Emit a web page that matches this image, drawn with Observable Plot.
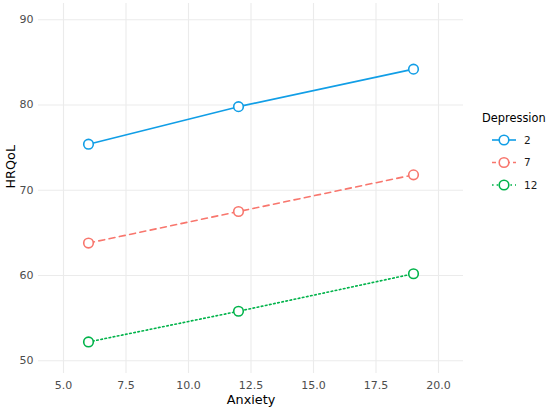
<!DOCTYPE html>
<html>
<head>
<meta charset="utf-8">
<script src="https://cdn.jsdelivr.net/npm/d3@7"></script>
<script src="https://cdn.jsdelivr.net/npm/@observablehq/plot@0.6"></script>
<style>
  html, body { margin: 0; padding: 0; background: #fff; overflow: hidden; }
  #chart svg { display: block; max-width: none; }
</style>
</head>
<body>
<div id="chart"></div>
<script>
const anxiety = [6, 12, 19];
const depressionLevels = ["2", "7", "12"];
const hrqolDep2 = [75.4, 79.8, 84.2];
const hrqolDep7 = [63.8, 67.5, 71.8];
const hrqolDep12 = [52.2, 55.8, 60.2];
const xTicks = [5, 7.5, 10, 12.5, 15, 17.5, 20];
const yTicks = [50, 60, 70, 80, 90];
const colors = ["#119EE6", "#F8766D", "#00B34A"];
const dashes = ["none", "6,4.5", "1.6,2.6"];

const seriesValues = [hrqolDep2, hrqolDep7, hrqolDep12];
const data = depressionLevels.flatMap((d, i) =>
  anxiety.map((a, j) => ({ Anxiety: a, HRQoL: seriesValues[i][j], Depression: d }))
);

const font = "DejaVu Sans, sans-serif";

const lineMarks = depressionLevels.map((d, i) =>
  Plot.line(data.filter(r => r.Depression === d), {
    x: "Anxiety", y: "HRQoL", stroke: "Depression",
    strokeWidth: 1.6, strokeDasharray: dashes[i] === "none" ? undefined : dashes[i]
  })
);

const chart = Plot.plot({
  width: 550,
  height: 412,
  marginLeft: 38,
  marginRight: 87,
  marginTop: 3,
  marginBottom: 39,
  style: { fontFamily: font, fontSize: "11px", background: "#fff" },
  x: { domain: [4, 21] },
  y: { domain: [48.5, 91.9] },
  color: { domain: depressionLevels, range: colors },
  marks: [
    Plot.gridX(xTicks, { stroke: "#EBEBEB", strokeOpacity: 1, strokeWidth: 1.1 }),
    Plot.gridY(yTicks, { stroke: "#EBEBEB", strokeOpacity: 1, strokeWidth: 1.1 }),
    Plot.axisX(xTicks, { tickSize: 0, tickPadding: 8, tickFormat: d => d.toFixed(1), label: null, fill: "#4D4D4D" }),
    Plot.axisY(yTicks, { tickSize: 0, tickPadding: 5, label: null, fill: "#4D4D4D" }),
    ...lineMarks,
    Plot.dot(data, { x: "Anxiety", y: "HRQoL", stroke: "Depression", r: 4.8, strokeWidth: 1.6, fill: "white" }),
    Plot.text(["Anxiety"], { frameAnchor: "bottom", dy: 30, fontSize: 12.8, fill: "#000", text: d => d }),
    Plot.text(["HRQoL"], { frameAnchor: "left", dx: -27.5, rotate: -90, fontSize: 12.8, fill: "#000", text: d => d })
  ]
});

document.getElementById("chart").appendChild(chart);

// Legend built from the same arrays
const svg = d3.select(chart);
const lg = svg.append("g").attr("font-family", font).attr("text-anchor", "start");
lg.append("text").attr("x", 482).attr("y", 122.3).attr("font-size", 11.4).attr("fill", "#000").text("Depression");
const rowY = [140, 162.5, 185];
depressionLevels.forEach((d, i) => {
  const g = lg.append("g");
  const line = g.append("line").attr("x1", 492).attr("x2", 516).attr("y1", rowY[i]).attr("y2", rowY[i])
    .attr("stroke", colors[i]).attr("stroke-width", 1.6);
  if (dashes[i] !== "none") line.attr("stroke-dasharray", i === 1 ? "4,3" : "1.6,3");
  g.append("circle").attr("cx", 504).attr("cy", rowY[i]).attr("r", 4.8)
    .attr("fill", "white").attr("stroke", colors[i]).attr("stroke-width", 1.6);
  g.append("text").attr("x", 524).attr("y", rowY[i]).attr("dy", "0.35em")
    .attr("font-size", 10.5).attr("fill", "#1A1A1A").text(d);
});
</script>
</body>
</html>
